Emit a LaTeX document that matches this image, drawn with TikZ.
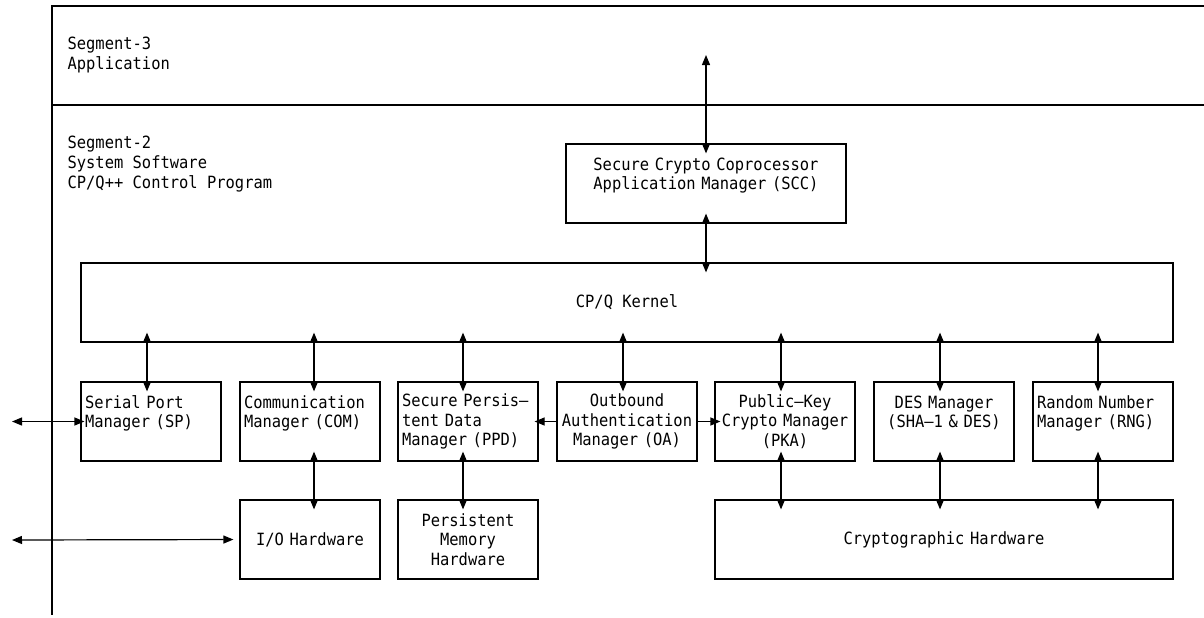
\documentclass[tikz,border=0pt]{standalone}
\usepackage{fontspec}
\newfontfamily\ibmfont[FakeStretch=0.915]{DejaVu Sans Mono}
\usetikzlibrary{arrows.meta}
\begin{document}
\begin{tikzpicture}[x=0.5pt,y=-0.5pt,line width=0.6pt,
    font=\ibmfont\fontsize{8.44}{9.8}\selectfont,
    mgr/.style={draw,minimum width=70pt,minimum height=39.5pt,text width=66pt,inner xsep=2pt,inner ysep=0pt},
    link/.style={{Triangle[length=5pt,width=4pt]}-{Triangle[length=5pt,width=4pt]},shorten <=-5pt,shorten >=-5pt},
    one/.style={-{Triangle[length=5pt,width=4pt]}}]
  \useasboundingbox (0,0) rectangle (1204,617);
  \draw (1204,6) -- (52,6) -- (52,615);
  \draw (52,105) -- (1204,105);
  \node[anchor=west,align=left,inner sep=0pt] (seg3) at (67,55) {Segment-3\\Application};
  \node[anchor=west,align=left,inner sep=0pt] (seg2) at (67,164) {Segment-2\\System Software\\CP/Q++ Control Program};
  \coordinate (app) at (706,55);
  \coordinate (ext1) at (12,421.5);
  \coordinate (ext2) at (12,540);
  \node[mgr,align=center,minimum width=140pt,text width=136pt] (scc) at (706,183.5) {Secure Crypto Coprocessor\\Application Manager (SCC)\\\mbox{}};
  \node[draw,minimum width=546pt,minimum height=39.5pt] (kernel) at (627,302.5) {CP/Q Kernel};
  \node[mgr,align=left] (sp) at (151,421.5) {Serial Port\\Manager (SP)\\\mbox{}};
  \node[mgr,align=left] (com) at (310,421.5) {Communication\\Manager (COM)\\\mbox{}};
  \node[mgr,align=left] (ppd) at (468,421.5) {Secure Persis–\\tent Data\\Manager (PPD)};
  \node[mgr,align=center] (oa) at (627,421.5) {Outbound\\Authentication\\Manager (OA)};
  \node[mgr,align=center] (pka) at (785,421.5) {Public–Key\\Crypto Manager\\(PKA)};
  \node[mgr,align=center] (des) at (944,421.5) {DES Manager\\(SHA–1 \& DES)\\\mbox{}};
  \node[mgr,align=left] (rng) at (1103,421.5) {Random Number\\Manager (RNG)\\\mbox{}};
  \node[mgr,align=center] (io) at (310,539.5) {I/O Hardware};
  \node[mgr,align=center] (pmem) at (468,539.5) {Persistent\\Memory\\Hardware};
  \node[mgr,align=center,minimum width=229pt,text width=225pt] (crypto) at (944,539.5) {Cryptographic Hardware};
  \draw[link,shorten <=0pt] (app) -- (scc.north);
  \draw[link] (scc.south) -- (scc.south |- kernel.north);
  \foreach \b/\s in {sp/-2,com/2,ppd/-2.5,oa/-2,pka/-2,des/-2,rng/-2.5}
    \draw[link] ([xshift=\s pt]\b.north) -- ([xshift=\s pt]\b.north |- kernel.south);
  \foreach \b/\h/\s in {com/io/2,ppd/pmem/-2.5,pka/crypto/-2,des/crypto/-2,rng/crypto/-2.5}
    \draw[link] ([xshift=\s pt]\b.south) -- ([xshift=\s pt]\b.south |- \h.north);
  \draw[link,shorten <=0pt,shorten >=-2pt] (ext1) -- (sp.west);
  \draw[link,shorten <=0pt,shorten >=3pt] (ext2) -- (io.west);
  \draw[one,shorten >=-2pt] (oa.west) -- (ppd.east);
  \draw[one,shorten >=-3pt] (oa.east) -- (pka.west);
\end{tikzpicture}
\end{document}
